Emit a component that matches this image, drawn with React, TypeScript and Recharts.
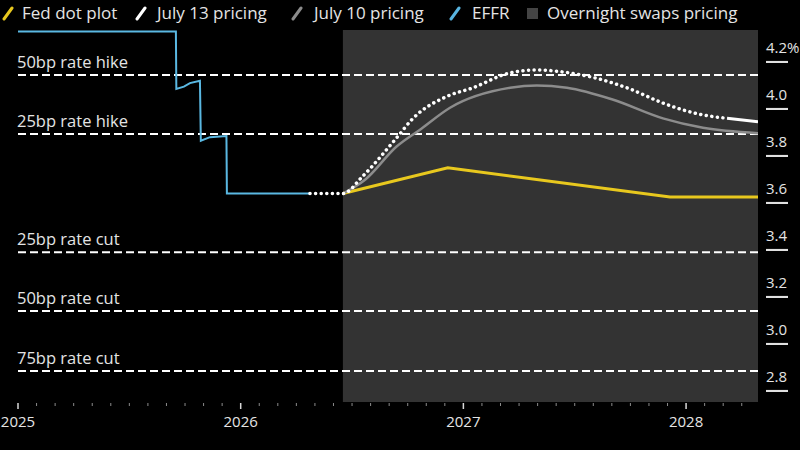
import React from 'react';
import { LineChart, Line, XAxis, YAxis, ReferenceLine, ReferenceArea } from 'recharts';

// dates are decimal years, rates in %
const effrDates = [2025.0, 2025.709, 2025.711, 2025.745, 2025.772, 2025.817, 2025.821, 2025.862, 2025.936, 2025.938, 2026.311];
const effrRates = [4.33, 4.33, 4.085, 4.095, 4.11, 4.12, 3.865, 3.88, 3.885, 3.64, 3.64];

const july13Dates = [2026.311, 2026.459, 2026.549, 2026.7, 2026.774, 2026.93, 2027.043, 2027.196, 2027.33, 2027.465, 2027.6, 2027.748, 2027.896, 2028.049, 2028.184, 2028.323];
const july13Rates = [3.64, 3.64, 3.715, 3.877, 3.96, 4.055, 4.09, 4.15, 4.166, 4.155, 4.13, 4.085, 4.025, 3.98, 3.96, 3.945];
const july13SolidFrom = 2028.184;

const july10Dates = [2026.459, 2026.56, 2026.7, 2026.81, 2026.94, 2027.21, 2027.33, 2027.465, 2027.67, 2027.896, 2028.076, 2028.323];
const july10Rates = [3.64, 3.7, 3.84, 3.915, 4.005, 4.09, 4.1, 4.09, 4.04, 3.96, 3.92, 3.897];

const dotDates = [2026.459, 2026.93, 2027.928, 2028.323];
const dotRates = [3.64, 3.75, 3.625, 3.625];

const swapsStart = 2026.459;
const xEnd = 2028.323;

const yearTicks = [2025, 2026, 2027, 2028];
const rateTicks = [2.8, 3.0, 3.2, 3.4, 3.6, 3.8, 4.0, 4.2];

const scenarioLabels = ['50bp rate hike', '25bp rate hike', '25bp rate cut', '50bp rate cut', '75bp rate cut'];
const scenarioLevels = [4.145, 3.893, 3.39, 3.14, 2.885];

const FONT = '"Open Sans", sans-serif';
const TEXT = '#e4e4e4';
const Y_TICK_LEN = 22;

const toPoints = (dates: number[], rates: number[]) => dates.map((d, i) => ({ t: d, v: rates[i] }));

const effrData = toPoints(effrDates, effrRates);
const july13All = toPoints(july13Dates, july13Rates);
const july13Dotted = july13All.filter((p) => p.t <= july13SolidFrom);
const july13Solid = july13All.filter((p) => p.t >= july13SolidFrom);
const july10Data = toPoints(july10Dates, july10Rates);
const dotData = toPoints(dotDates, dotRates);

// monthly ticks, labelled only on years
const monthTicks: number[] = [];
for (let m = 0; 2025 + m / 12 <= xEnd; m++) monthTicks.push(2025 + m / 12);

const XTick = (props: any) => {
  const x = Number(props.x);
  const y = Number(props.y);
  const v = props.payload.value;
  const isYear = yearTicks.some((yr) => Math.abs(yr - v) < 1e-6);
  return (
    <g>
      <rect x={x - (isYear ? 0.75 : 0.5)} y={y + 1} width={isYear ? 1.5 : 1} height={isYear ? 6 : 3} fill={isYear ? '#d8d8d8' : '#8a8a8a'} />
      {isYear && (
        <text x={x} y={y + 25} textAnchor="middle" fill={TEXT} fontSize={15} fontFamily={FONT}>
          {Math.round(v)}
        </text>
      )}
    </g>
  );
};

// label sits above a short underline at the tick value (tick x is at the end of the tick line)
const YTick = (props: any) => {
  const x = Number(props.x) - Y_TICK_LEN + 8;
  const y = Number(props.y);
  const v = props.payload.value as number;
  return (
    <g>
      <text x={x} y={y - 9} fill={TEXT} fontSize={15} fontFamily={FONT} textAnchor="start">
        {v.toFixed(1)}
        {v === 4.2 ? '%' : ''}
      </text>
      <rect x={x} y={y - 1} width={Y_TICK_LEN} height={2} fill="#e0e0e0" />
    </g>
  );
};

const LegendIcon = ({ color }: { color: string }) => (
  <svg width={12} height={16} style={{ display: 'block' }}>
    <line x1={2} y1={14} x2={10} y2={3} stroke={color} strokeWidth={3} strokeLinecap="round" />
  </svg>
);

const legendItems = [
  { label: 'Fed dot plot', color: '#e8c81e', iconX: 2, textX: 22 },
  { label: 'July 13 pricing', color: '#ffffff', iconX: 135, textX: 157 },
  { label: 'July 10 pricing', color: '#8c8c8c', iconX: 291, textX: 314 },
  { label: 'EFFR', color: '#58b4e0', iconX: 449, textX: 472 },
];

const App = () => {
  return (
    <div style={{ position: 'fixed', left: 0, top: 0, width: 800, height: 450, background: '#000', overflow: 'hidden' }}>
      <div style={{ position: 'absolute', left: 0, top: 0, width: 800, height: 28, fontFamily: FONT, fontSize: 17, color: TEXT, whiteSpace: 'nowrap' }}>
        {legendItems.map((it) => (
          <React.Fragment key={it.label}>
            <div style={{ position: 'absolute', left: it.iconX, top: 5 }}>
              <LegendIcon color={it.color} />
            </div>
            <span style={{ position: 'absolute', left: it.textX, top: 1, lineHeight: '24px' }}>{it.label}</span>
          </React.Fragment>
        ))}
        <div style={{ position: 'absolute', left: 527, top: 8, width: 11, height: 11, background: '#444' }} />
        <span style={{ position: 'absolute', left: 547, top: 1, lineHeight: '24px' }}>Overnight swaps pricing</span>
      </div>
      <LineChart width={800} height={450} margin={{ top: 30, right: 0, left: 18, bottom: 18 }}>
        <XAxis
          dataKey="t"
          type="number"
          domain={[2025, xEnd]}
          allowDataOverflow
          ticks={monthTicks}
          interval={0}
          tick={<XTick />}
          tickLine={false}
          axisLine={false}
          tickSize={0}
          tickMargin={0}
          height={30}
        />
        <YAxis
          orientation="right"
          type="number"
          domain={[2.753, 4.336]}
          allowDataOverflow
          ticks={rateTicks}
          interval={0}
          tick={<YTick />}
          tickLine={{ stroke: '#e0e0e0', strokeWidth: 2, transform: 'translate(8,0)' }}
          axisLine={false}
          tickSize={Y_TICK_LEN}
          tickMargin={0}
          width={42}
        />
        <ReferenceArea x1={swapsStart} x2={xEnd} y1={2.753} y2={4.336} fill="#333333" fillOpacity={1} stroke="none" />
        {scenarioLevels.map((lvl, i) => (
          <ReferenceLine
            key={scenarioLabels[i]}
            y={lvl}
            stroke="#ffffff"
            strokeWidth={2}
            strokeDasharray="8 4"
            label={(props: any) => (
              <text x={Number(props.viewBox.x) - 1} y={Number(props.viewBox.y) - 7} fill={TEXT} fontSize={16.5} fontFamily={FONT}>
                {scenarioLabels[i]}
              </text>
            )}
          />
        ))}
        <Line data={effrData} dataKey="v" type="linear" stroke="#5ab8e2" strokeWidth={2} dot={false} isAnimationActive={false} />
        <Line data={dotData} dataKey="v" type="linear" stroke="#e8c81e" strokeWidth={3} dot={false} isAnimationActive={false} />
        <Line data={july10Data} dataKey="v" type="monotone" stroke="#8c8c8c" strokeWidth={2.5} dot={false} isAnimationActive={false} />
        <Line
          data={july13Dotted}
          dataKey="v"
          type="monotone"
          stroke="#ffffff"
          strokeWidth={3.5}
          strokeDasharray="0.1 5.5"
          strokeLinecap="round"
          dot={false}
          isAnimationActive={false}
        />
        <Line data={july13Solid} dataKey="v" type="linear" stroke="#ffffff" strokeWidth={3} dot={false} isAnimationActive={false} />
      </LineChart>
    </div>
  );
};

export default App;
